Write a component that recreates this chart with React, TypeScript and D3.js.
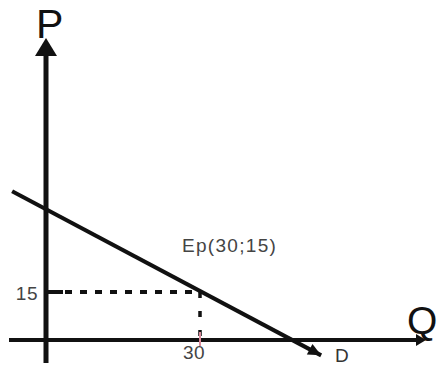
import React from "react";
import * as d3 from "d3";

// Equilibrium point and tick labels
const qTicks = [30];
const pTicks = [15];
const equilibrium = { q: 30, p: 15, label: "Ep(30;15)" };

// Demand curve D (two end points, extends past the axes)
const demandQ = [-6.6, 53.6];
const demandP = [46.5, -4.8];

const W = 437;
const H = 366;

export default function App() {
  const x = d3.scaleLinear().domain([0, 30]).range([46, 200]);
  const y = d3.scaleLinear().domain([0, 15]).range([340, 292]);

  const line = d3
    .line<[number, number]>()
    .x((d) => x(d[0]))
    .y((d) => y(d[1]));

  const demandPts: [number, number][] = demandQ.map((q, i) => [q, demandP[i]]);

  const x0 = x(0);
  const y0 = y(0);
  const ex = x(equilibrium.q);
  const ey = y(equilibrium.p);

  // Demand arrow head direction
  const [a, b] = demandPts.map((d) => [x(d[0]), y(d[1])]);
  const ang = Math.atan2(b[1] - a[1], b[0] - a[0]);
  const headLen = 13;
  const headW = 6;
  const dh = [
    [b[0], b[1]],
    [
      b[0] - headLen * Math.cos(ang) + headW * Math.sin(ang),
      b[1] - headLen * Math.sin(ang) - headW * Math.cos(ang),
    ],
    [
      b[0] - headLen * Math.cos(ang) - headW * Math.sin(ang),
      b[1] - headLen * Math.sin(ang) + headW * Math.cos(ang),
    ],
  ];

  const font = "'Liberation Sans', Arial, sans-serif";

  return (
    <svg
      width={W}
      height={H}
      style={{ position: "absolute", left: 0, top: 0, background: "#fff" }}
      fontFamily={font}
    >
      {/* P axis */}
      <line x1={x0} x2={x0} y1={363} y2={52} stroke="#111" strokeWidth={5} />
      <path d={`M${x0},38 L${x0 + 11},56 L${x0 - 11},56 Z`} fill="#111" />
      <text x={36} y={38} fontSize={41} fill="#111">P</text>

      {/* Q axis */}
      <line x1={9} x2={418} y1={y0} y2={y0} stroke="#111" strokeWidth={4} />
      <path d={`M426,${y0} L416,${y0 - 6} L416,${y0 + 6} Z`} fill="#111" />
      <text x={407} y={334} fontSize={39} fill="#111">Q</text>

      {/* Guide lines to the equilibrium */}
      <line
        x1={x0}
        x2={ex}
        y1={ey}
        y2={ey}
        stroke="#111"
        strokeWidth={4}
        strokeDasharray="0 4 7 8 7 8 7 8 7 8 7 8 7 8 7 8 7 8 7 8 7 8"
      />
      <line
        x1={x0}
        x2={x0 + 17}
        y1={ey}
        y2={ey}
        stroke="#111"
        strokeWidth={4}
      />
      <line
        x1={ex}
        x2={ex}
        y1={ey}
        y2={y0}
        stroke="#111"
        strokeWidth={3.5}
        strokeDasharray="6 13"
      />
      <line x1={ex} x2={ex} y1={y0 - 8} y2={y0 + 6} stroke="#d98a9a" strokeWidth={2} />

      {/* Demand curve */}
      <path d={line(demandPts) ?? ""} stroke="#111" strokeWidth={4} fill="none" />
      <path d={`M${dh.map((p) => p.join(",")).join("L")}Z`} fill="#111" />
      <text x={335} y={362} fontSize={19} fill="#333">D</text>

      {/* Tick labels */}
      {pTicks.map((p) => (
        <text
          key={`p${p}`}
          x={x0 - 8}
          y={y(p) + 8}
          fontSize={19}
          textAnchor="end"
          fill="#444"
          letterSpacing={0.5}
        >
          {p}
        </text>
      ))}
      {qTicks.map((q) => (
        <text
          key={`q${q}`}
          x={x(q) - 6}
          y={359}
          fontSize={19}
          textAnchor="middle"
          fill="#444"
          letterSpacing={0.5}
        >
          {q}
        </text>
      ))}

      {/* Equilibrium label */}
      <text
        x={182}
        y={252}
        fontSize={19}
        fill="#444"
        letterSpacing={1.3}
      >
        {equilibrium.label}
      </text>
    </svg>
  );
}
